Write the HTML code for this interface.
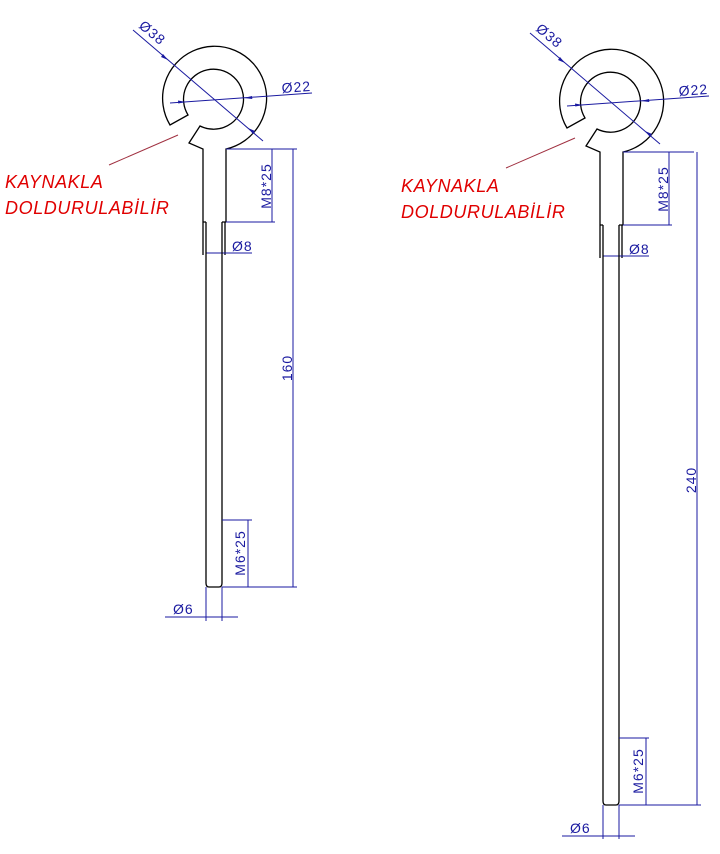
<!DOCTYPE html>
<html><head><meta charset="utf-8"><style>
html,body{margin:0;padding:0;background:#fff}
svg{display:block}
.k{stroke:#000;stroke-width:1.3;fill:none}
.b{stroke:#1a1aa0;stroke-width:1;fill:none}
.t{fill:#1a1aa0;font-family:"Liberation Sans",sans-serif;font-size:14px;letter-spacing:1px}
.r{fill:#e00000;font-family:"Liberation Sans",sans-serif;font-size:18px;font-style:italic;letter-spacing:0.6px}
</style></head><body>
<svg width="720" height="854" viewBox="0 0 720 854" xmlns="http://www.w3.org/2000/svg">
<defs>
<g id="top">
  <path class="k" d="M203,222 L203,149 L189,143 L200,126 A30,30 0 1 0 188,115 L170,125 A52,52 0 1 1 226,149 L226,222"/>
  <path class="k" d="M203,222 L206,222 M226,222 L222,222 M203,222 L203,255 M225,222 L225,255"/>
  <!-- Ø38 -->
  <line class="b" x1="133" y1="30" x2="263" y2="141"/>
  <path d="M168,60 l-7,-3 2,-3z M248,128 l7,3 -2,3z" fill="#1a1aa0"/>
  <text class="t" transform="translate(138,27) rotate(40)">Ø38</text>
  <!-- Ø22 -->
  <line class="b" x1="170" y1="103" x2="312" y2="93"/>
  <path d="M186,102 l-8,-1.5 0.3,3z M244,98 l8,-2 0.3,3z" fill="#1a1aa0"/>
  <text class="t" transform="translate(282,93) rotate(-4)">Ø22</text>
  <!-- M8*25 -->
  <line class="b" x1="226" y1="149" x2="297" y2="149"/>
  <line class="b" x1="226" y1="222" x2="275" y2="222"/>
  <line class="b" x1="272" y1="149" x2="272" y2="222"/>
  <text class="t" text-anchor="middle" transform="translate(271,186) rotate(-90)">M8*25</text>
  <!-- Ø8 -->
  <line class="b" x1="206" y1="222" x2="206" y2="256"/>
  <line class="b" x1="222" y1="222" x2="222" y2="256"/>
  <line class="b" x1="206" y1="253" x2="252" y2="253"/>
  <text class="t" x="232" y="251">Ø8</text>
</g>
</defs>

<!-- LEFT -->
<use href="#top"/>
<path class="k" d="M206,222 L206,583 Q206,587 209,587 L219,587 Q222,587 222,583 L222,222"/>
<line class="b" x1="293" y1="149" x2="293" y2="587"/>
<text class="t" text-anchor="middle" transform="translate(292,368) rotate(-90)">160</text>
<line class="b" x1="222" y1="587" x2="297" y2="587"/>
<line class="b" x1="222" y1="520" x2="252" y2="520"/>
<line class="b" x1="248" y1="520" x2="248" y2="587"/>
<text class="t" text-anchor="middle" transform="translate(245,553) rotate(-90)">M6*25</text>
<line class="b" x1="206" y1="587" x2="206" y2="621"/>
<line class="b" x1="222" y1="587" x2="222" y2="621"/>
<line class="b" x1="165" y1="617" x2="238" y2="617"/>
<text class="t" x="173" y="614">Ø6</text>
<line x1="109" y1="165" x2="178" y2="135" stroke="#a03040" stroke-width="1"/>
<text class="r" x="5" y="188">KAYNAKLA</text>
<text class="r" x="5" y="214">DOLDURULABİLİR</text>

<!-- RIGHT -->
<g transform="translate(397,3)"><use href="#top"/></g>
<path class="k" d="M603,225 L603,801 Q603,805 606,805 L616,805 Q619,805 619,801 L619,225"/>
<line class="b" x1="697" y1="152" x2="697" y2="805"/>
<text class="t" text-anchor="middle" transform="translate(696,480) rotate(-90)">240</text>
<line class="b" x1="619" y1="805" x2="701" y2="805"/>
<line class="b" x1="619" y1="738" x2="649" y2="738"/>
<line class="b" x1="646" y1="738" x2="646" y2="805"/>
<text class="t" text-anchor="middle" transform="translate(643,771) rotate(-90)">M6*25</text>
<line class="b" x1="603" y1="805" x2="603" y2="839"/>
<line class="b" x1="619" y1="805" x2="619" y2="839"/>
<line class="b" x1="562" y1="836" x2="635" y2="836"/>
<text class="t" x="570" y="833">Ø6</text>
<line x1="506" y1="168" x2="575" y2="138" stroke="#a03040" stroke-width="1"/>
<text class="r" x="401" y="192">KAYNAKLA</text>
<text class="r" x="401" y="218">DOLDURULABİLİR</text>
</svg>
</body></html>
